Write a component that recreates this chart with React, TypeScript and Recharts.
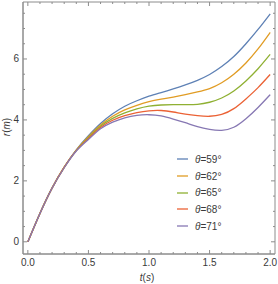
import React from 'react';
import { LineChart, Line, XAxis, YAxis, Legend, ReferenceArea } from 'recharts';

const times = [0, 0.1, 0.2, 0.3, 0.4, 0.5, 0.6, 0.7, 0.8, 0.9, 1.0, 1.1, 1.2, 1.3, 1.4, 1.5, 1.6, 1.7, 1.8, 1.9, 2.0];
const r59 = [0, 0.94, 1.77, 2.45, 3.02, 3.48, 3.88, 4.20, 4.45, 4.63, 4.78, 4.90, 5.02, 5.15, 5.30, 5.49, 5.75, 6.08, 6.50, 6.97, 7.48];
const r62 = [0, 0.94, 1.77, 2.45, 3.01, 3.45, 3.83, 4.12, 4.33, 4.48, 4.60, 4.68, 4.75, 4.83, 4.92, 5.03, 5.22, 5.50, 5.87, 6.33, 6.87];
const r65 = [0, 0.93, 1.76, 2.44, 3.00, 3.42, 3.79, 4.05, 4.23, 4.36, 4.45, 4.49, 4.50, 4.50, 4.51, 4.58, 4.72, 4.95, 5.28, 5.68, 6.15];
const r68 = [0, 0.93, 1.76, 2.44, 2.99, 3.39, 3.75, 3.99, 4.14, 4.24, 4.30, 4.31, 4.26, 4.19, 4.14, 4.12, 4.18, 4.37, 4.69, 5.06, 5.49];
const r71 = [0, 0.93, 1.76, 2.43, 2.98, 3.36, 3.71, 3.93, 4.07, 4.15, 4.17, 4.13, 4.03, 3.91, 3.78, 3.69, 3.66, 3.76, 4.04, 4.41, 4.83];

const angles = ['59', '62', '65', '68', '71'];
const seriesKeys = ['a59', 'a62', 'a65', 'a68', 'a71'];
const seriesValues = [r59, r62, r65, r68, r71];
const colors = ['#5E81B5', '#E19C24', '#8FB032', '#EB6235', '#8778B3'];

const xTicks = [0, 0.1, 0.2, 0.3, 0.4, 0.5, 0.6, 0.7, 0.8, 0.9, 1.0, 1.1, 1.2, 1.3, 1.4, 1.5, 1.6, 1.7, 1.8, 1.9, 2.0];
const xMajor = [0, 0.5, 1, 1.5, 2];
const yTicks = [0, 0.5, 1, 1.5, 2, 2.5, 3, 3.5, 4, 4.5, 5, 5.5, 6, 6.5, 7, 7.5];
const yMajor = [0, 2, 4, 6];

const X_DOMAIN: [number, number] = [-0.04, 2.04];
const Y_DOMAIN: [number, number] = [-0.40, 7.87];

const data = times.map((t, i) => {
  const row: Record<string, number> = { t };
  seriesKeys.forEach((k, j) => {
    row[k] = seriesValues[j][i];
  });
  return row;
});

const FONT = '"Liberation Sans", Arial, sans-serif';
const FRAME = '#8c8c8c';
const TEXT = '#3a3a3a';
const PLOT_H = 252;
const PLOT_W = 252;

const isMajor = (v: number, majors: number[]) => majors.some((m) => Math.abs(m - v) < 1e-6);

const XTick = (props: any) => {
  const { x, y, payload } = props;
  const v = payload.value as number;
  const major = isMajor(v, xMajor);
  const len = major ? 4 : 2;
  return (
    <g>
      <line x1={x} x2={x} y1={y} y2={y - len} stroke={FRAME} strokeWidth={1} />
      <line x1={x} x2={x} y1={y - PLOT_H} y2={y - PLOT_H + len} stroke={FRAME} strokeWidth={1} />
      {major && (
        <text x={x} y={y + 8} textAnchor="middle" dominantBaseline="central" fontSize={10} fontFamily={FONT} fill={TEXT}>
          {v.toFixed(1)}
        </text>
      )}
    </g>
  );
};

const YTick = (props: any) => {
  const { x, y, payload } = props;
  const v = payload.value as number;
  const major = isMajor(v, yMajor);
  const len = major ? 4 : 2;
  return (
    <g>
      <line x1={x} x2={x + len} y1={y} y2={y} stroke={FRAME} strokeWidth={1} />
      <line x1={x + PLOT_W} x2={x + PLOT_W - len} y1={y} y2={y} stroke={FRAME} strokeWidth={1} />
      {major && (
        <text x={x - 4} y={y} textAnchor="end" dominantBaseline="central" fontSize={10} fontFamily={FONT} fill={TEXT}>
          {String(v)}
        </text>
      )}
    </g>
  );
};

const XLabel = () => (
  <text x={147} y={281} textAnchor="middle" fontSize={10} fontFamily={FONT} fill={TEXT}>
    <tspan fontStyle="italic">t</tspan>
    <tspan>(</tspan>
    <tspan fontStyle="italic">s</tspan>
    <tspan>)</tspan>
  </text>
);

const YLabel = () => (
  <text x={10} y={127} transform="rotate(-90 10 127)" textAnchor="middle" fontSize={10} fontFamily={FONT} fill={TEXT}>
    <tspan fontStyle="italic">r</tspan>
    <tspan>(</tspan>
    <tspan fontStyle="italic">m</tspan>
    <tspan>)</tspan>
  </text>
);

const LegendContent = (props: any) => {
  const payload = props.payload || [];
  return (
    <div style={{ fontFamily: FONT, fontSize: 10, color: TEXT }}>
      {payload.map((p: any, i: number) => (
        <div key={i} style={{ display: 'flex', alignItems: 'center', height: 16.7 }}>
          <svg width={12} height={4} style={{ display: 'block' }}>
            <line x1={0} x2={11} y1={2} y2={2} stroke={p.color} strokeWidth={1.3} />
          </svg>
          <span style={{ marginLeft: 6, whiteSpace: 'nowrap' }}>
            <i>θ</i>={angles[i]}°
          </span>
        </div>
      ))}
    </div>
  );
};

export default function App() {
  return (
    <div style={{ position: 'absolute', left: 0, top: 0 }}>
      <LineChart width={278} height={284} data={data} margin={{ top: 2, right: 3, bottom: 0, left: 0 }}>
        <ReferenceArea
          x1={X_DOMAIN[0]}
          x2={X_DOMAIN[1]}
          y1={Y_DOMAIN[0]}
          y2={Y_DOMAIN[1]}
          fill="none"
          stroke={FRAME}
          strokeWidth={1}
          ifOverflow="visible"
        />
        <XAxis
          dataKey="t"
          type="number"
          domain={X_DOMAIN}
          allowDataOverflow
          ticks={xTicks}
          interval={0}
          height={30}
          tickSize={0}
          tickMargin={0}
          tickLine={false}
          axisLine={{ stroke: FRAME }}
          tick={<XTick />}
          label={<XLabel />}
        />
        <YAxis
          type="number"
          domain={Y_DOMAIN}
          allowDataOverflow
          ticks={yTicks}
          interval={0}
          width={23}
          tickSize={0}
          tickMargin={0}
          tickLine={false}
          axisLine={{ stroke: FRAME }}
          tick={<YTick />}
          label={<YLabel />}
        />
        <Legend
          layout="vertical"
          align="center"
          verticalAlign="middle"
          content={<LegendContent />}
          wrapperStyle={{ position: 'absolute', left: 177, top: 151, width: 90 }}
        />
        {seriesKeys.map((k, i) => (
          <Line
            key={k}
            dataKey={k}
            name={`θ=${angles[i]}°`}
            type="natural"
            stroke={colors[i]}
            strokeWidth={1.3}
            dot={false}
            isAnimationActive={false}
          />
        ))}
      </LineChart>
    </div>
  );
}
